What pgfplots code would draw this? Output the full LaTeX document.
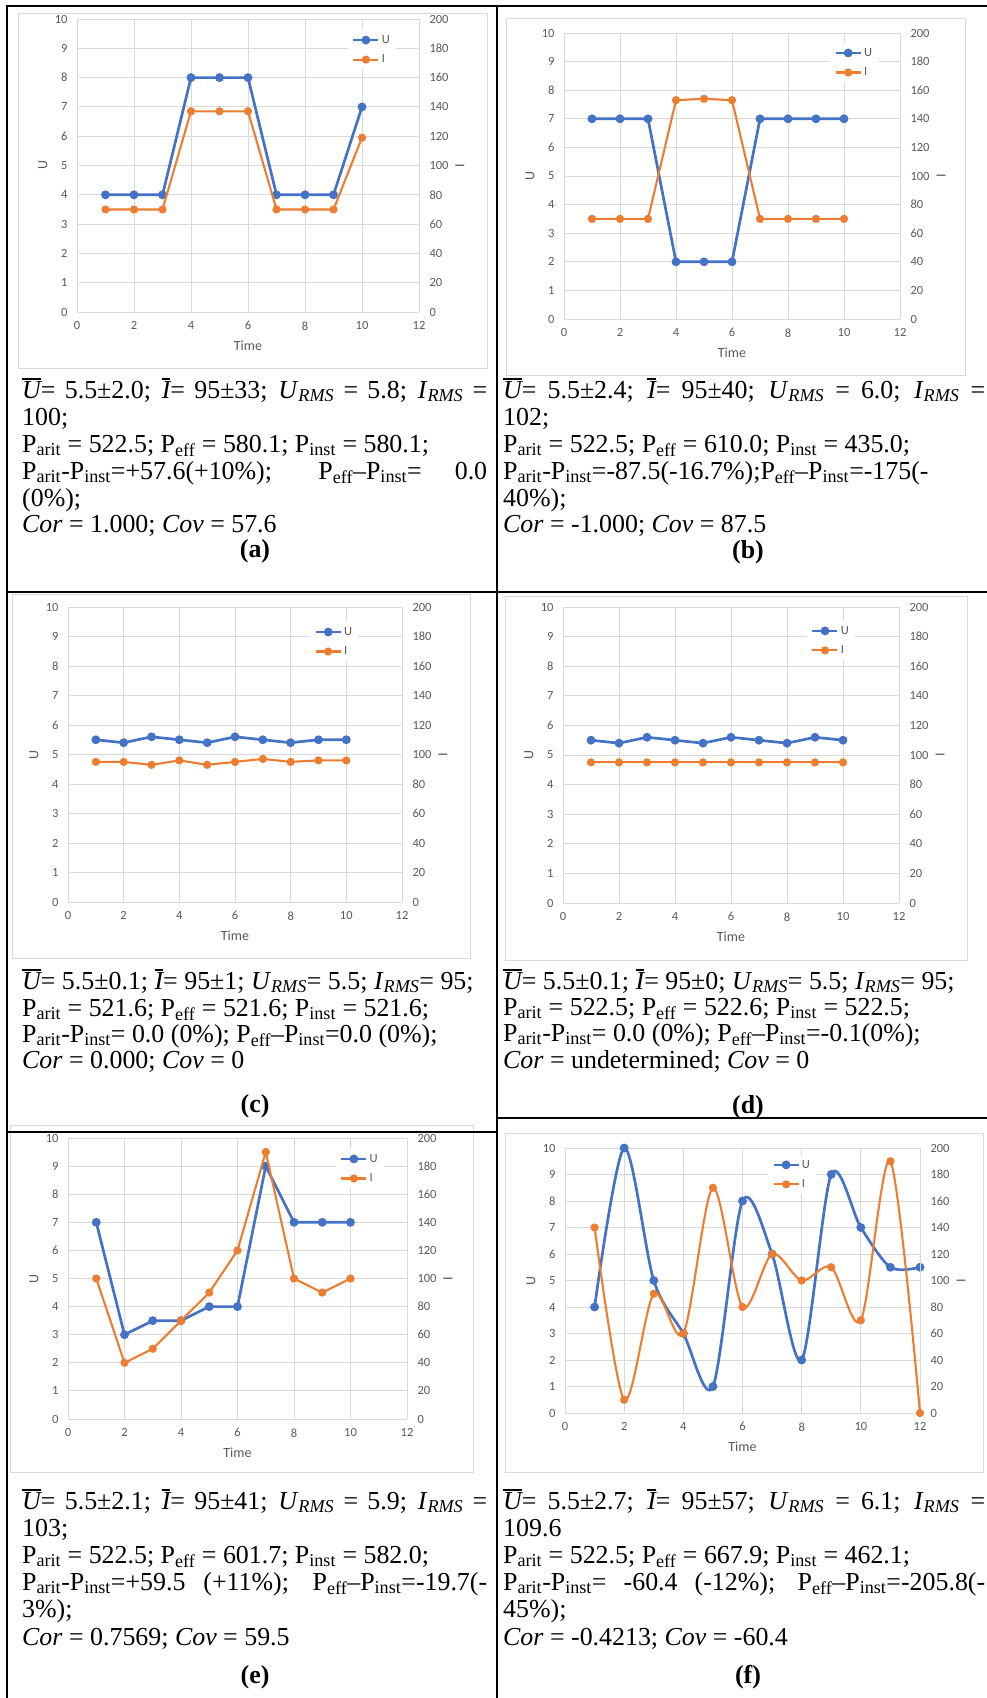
\documentclass[border=0pt]{standalone}
\usepackage{pgfplots}
\pgfplotsset{compat=1.18}
\usepackage{pgfplotstable}
\usetikzlibrary{calc}
\usepackage{fontspec}
\setmainfont{Liberation Serif}
\newfontfamily\chartfont{Carlito}

\definecolor{ublue}{HTML}{4472C4}
\definecolor{iorange}{HTML}{ED7D31}
\definecolor{gridgray}{HTML}{D9D9D9}
\definecolor{labgray}{HTML}{595959}

% one table per panel: time, U (left axis), I (right axis)
\pgfplotstableread{
t U I
1 4 70
2 4 70
3 4 70
4 8 137
5 8 137
6 8 137
7 4 70
8 4 70
9 4 70
10 7 119
}\tabA
\pgfplotstableread{
t U I
1 7 70
2 7 70
3 7 70
4 2 153
5 2 154
6 2 153
7 7 70
8 7 70
9 7 70
10 7 70
}\tabB
\pgfplotstableread{
t U I
1 5.5 95
2 5.4 95
3 5.6 93
4 5.5 96
5 5.4 93
6 5.6 95
7 5.5 97
8 5.4 95
9 5.5 96
10 5.5 96
}\tabC
\pgfplotstableread{
t U I
1 5.5 95
2 5.4 95
3 5.6 95
4 5.5 95
5 5.4 95
6 5.6 95
7 5.5 95
8 5.4 95
9 5.6 95
10 5.5 95
}\tabD
\pgfplotstableread{
t U I
1 7 100
2 3 40
3 3.5 50
4 3.5 70
5 4 90
6 4 120
7 9 190
8 7 100
9 7 90
10 7 100
}\tabE
\pgfplotstableread{
t U I
1 4 140
2 10 10
3 5 90
4 3 60
5 1 170
6 8 80
7 6 120
8 2 100
9 9 110
10 7 70
11 5.5 190
12 5.5 0
}\tabF

\pgfplotsset{
  ustyle/.style={color=ublue, line width=2.7pt, mark=*, mark size=3pt, mark options={solid}},
  istyle/.style={color=iorange, line width=2.1pt, mark=*, mark size=3pt, mark options={solid}},
  ui common/.style={
    scale only axis, clip=false,
    xmin=0, xmax=12,
    major tick length=0pt,
    tick label style={font=\chartfont\fontsize{12.5}{14}\selectfont, text=labgray},
    label style={font=\chartfont\fontsize{14}{16}\selectfont, text=labgray},
    /pgf/number format/assume math mode=true,
    axis line style={gridgray, line width=0.9pt},
  },
  ui left/.style={ui common,
    ymin=0, ymax=10, ytick={0,1,...,10}, xtick={0,2,...,12},
    grid=major, grid style={gridgray, line width=0.9pt},
    axis x line*=bottom, axis y line*=left,
    xticklabel style={yshift=-6pt},
    yticklabel style={xshift=-6pt},
    xlabel={Time}, ylabel={U},
    xlabel style={at={($(axis description cs:0.5,0)+(0,-34pt)$)}, anchor=center},
    ylabel style={at={($(axis description cs:0,0.5)+(-34pt,0)$)}, anchor=center},
  },
  ui right/.style={ui common,
    ymin=0, ymax=200, ytick={0,20,...,200},
    axis x line=none, axis y line*=right,
    yticklabel style={xshift=7pt},
    ylabel={I},
    ylabel style={at={($(axis description cs:1,0.5)+(41pt,0)$)}, anchor=center},
    legend style={anchor=north west, draw=none, fill=white,
      font=\chartfont\fontsize{12.5}{14}\selectfont, text=labgray,
      inner xsep=4pt, inner ysep=3pt, row sep=6pt},
    legend cell align=left,
    legend image code/.code={
      \draw[mark repeat=2,mark phase=2] plot coordinates {(0pt,0pt) (12.5pt,0pt) (25pt,0pt)};
    },
  },
}

% #1 left, #2 bottom, #3 width, #4 height of the plot area (pt from top-left)
% #5 table, #6 #7 legend corner (axis fraction), #8 extra plot options
\newcommand\uichart[8]{%
  \begin{axis}[ui left, at={(#1pt,-#2pt)}, anchor=south west, width=#3pt, height=#4pt]
    \addplot[ustyle,#8] table[x=t,y=U] {#5};
  \end{axis}
  \begin{axis}[ui right, at={(#1pt,-#2pt)}, anchor=south west, width=#3pt, height=#4pt,
      legend style={at={(#6,#7)}}]
    \addlegendimage{ustyle}
    \addlegendentry{U}
    \addplot[istyle,#8] table[x=t,y=I] {#5};
    \addlegendentry{I}
  \end{axis}
}

\newcommand\txt{\fontsize{25.9}{30}\selectfont}
\newcommand\ovl[1]{{\setbox0=\hbox{\itshape #1}\rlap{\rule[0.70em]{\wd0}{0.09em}}\box0}}
\newcommand\urms{\textit{U}\textsubscript{\textit{RMS}}}
\newcommand\irms{\textit{I}\textsubscript{\textit{RMS}}}
\newcommand\pa{P\textsubscript{arit}}
\newcommand\pe{P\textsubscript{eff}}
\newcommand\pin{P\textsubscript{inst}}
\newcommand\tl[3]{\node[anchor=base west, inner sep=0pt, font=\txt] at (#1pt,-#2pt) {#3};}
\newcommand\tc[3]{\node[anchor=base, inner sep=0pt, font=\txt\bfseries] at (#1pt,-#2pt) {#3};}

\begin{document}
\begin{tikzpicture}
\useasboundingbox (0pt,0pt) rectangle (987pt,-1698pt);

% chart frames
\draw[gridgray, line width=1pt] (18pt,-13pt) rectangle (487pt,-368pt);
\draw[gridgray, line width=1pt] (506pt,-18pt) rectangle (965pt,-375pt);
\draw[gridgray, line width=1pt] (12pt,-594pt) rectangle (470pt,-958pt);
\draw[gridgray, line width=1pt] (505pt,-596pt) rectangle (967pt,-960pt);
\draw[gridgray, line width=1pt] (10pt,-1125pt) rectangle (473pt,-1472pt);
\draw[gridgray, line width=1pt] (505pt,-1133pt) rectangle (983pt,-1472pt);

\uichart{77}{312}{342}{293}{\tabA}{0.792}{0.962}{}
\uichart{564}{319}{336}{286}{\tabB}{0.792}{0.965}{}
\uichart{68}{902}{334}{295}{\tabC}{0.725}{0.949}{}
\uichart{563}{903}{336}{296}{\tabD}{0.726}{0.953}{}
\uichart{68}{1419}{339}{281}{\tabE}{0.79}{0.961}{}
\uichart{565}{1413}{355}{265}{\tabF}{0.572}{0.974}{smooth}

% (a)
\tl{22}{398}{\makebox[465pt][s]{\ovl{U}= 5.5±2.0; \ovl{I}= 95±33; \urms{} = 5.8; \irms{} =}}
\tl{22}{425}{100;}
\tl{22}{452}{\pa{} = 522.5; \pe{} = 580.1; \pin{} = 580.1;}
\tl{22}{479}{\makebox[465pt][s]{\pa-\pin=+57.6(+10\%); \pe–\pin= 0.0}}
\tl{22}{506}{(0\%);}
\tl{22}{532}{\textit{Cor} = 1.000; \textit{Cov} = 57.6}
\tc{255}{557}{(a)}
% (b)
\tl{503}{398}{\makebox[482pt][s]{\ovl{U}= 5.5±2.4; \ovl{I}= 95±40; \urms{} = 6.0; \irms{} =}}
\tl{503}{425}{102;}
\tl{503}{452}{\pa{} = 522.5; \pe{} = 610.0; \pin{} = 435.0;}
\tl{503}{479}{\pa-\pin=-87.5(-16.7\%);\pe–\pin=-175(-}
\tl{503}{506}{40\%);}
\tl{503}{532}{\textit{Cor} = -1.000; \textit{Cov} = 87.5}
\tc{748}{558}{(b)}
% (c)
\tl{22}{989}{\ovl{U}= 5.5±0.1; \ovl{I}= 95±1; \urms= 5.5; \irms= 95;}
\tl{22}{1016}{\pa{} = 521.6; \pe{} = 521.6; \pin{} = 521.6;}
\tl{22}{1042}{\pa-\pin= 0.0 (0\%); \pe–\pin=0.0 (0\%);}
\tl{22}{1068}{\textit{Cor} = 0.000; \textit{Cov} = 0}
\tc{255}{1112}{(c)}
% (d)
\tl{503}{989}{\ovl{U}= 5.5±0.1; \ovl{I}= 95±0; \urms= 5.5; \irms= 95;}
\tl{503}{1015}{\pa{} = 522.5; \pe{} = 522.6; \pin{} = 522.5;}
\tl{503}{1041}{\pa-\pin= 0.0 (0\%); \pe–\pin=-0.1(0\%);}
\tl{503}{1068}{\textit{Cor} = undetermined; \textit{Cov} = 0}
\tc{748}{1113}{(d)}
% (e)
\tl{22}{1509}{\makebox[465pt][s]{\ovl{U}= 5.5±2.1; \ovl{I}= 95±41; \urms{} = 5.9; \irms{} =}}
\tl{22}{1536}{103;}
\tl{22}{1563}{\pa{} = 522.5; \pe{} = 601.7; \pin{} = 582.0;}
\tl{22}{1590}{\makebox[465pt][s]{\pa-\pin=+59.5 (+11\%); \pe–\pin=-19.7(-}}
\tl{22}{1617}{3\%);}
\tl{22}{1645}{\textit{Cor} = 0.7569; \textit{Cov} = 59.5}
\tc{255}{1683}{(e)}
% (f)
\tl{503}{1509}{\makebox[482pt][s]{\ovl{U}= 5.5±2.7; \ovl{I}= 95±57; \urms{} = 6.1; \irms{} =}}
\tl{503}{1536}{109.6}
\tl{503}{1563}{\pa{} = 522.5; \pe{} = 667.9; \pin{} = 462.1;}
\tl{503}{1590}{\makebox[482pt][s]{\pa-\pin= -60.4 (-12\%); \pe–\pin=-205.8(-}}
\tl{503}{1617}{45\%);}
\tl{503}{1645}{\textit{Cor} = -0.4213; \textit{Cov} = -60.4}
\tc{748}{1683}{(f)}

% table rules
\begin{scope}[line width=2.7pt, black]
\draw (5.6pt,-6pt) -- (987pt,-6pt);
\draw (7pt,-6pt) -- (7pt,-1698pt);
\draw (497pt,-6pt) -- (497pt,-1698pt);
\draw (7pt,-592pt) -- (987pt,-592pt);
\draw (7pt,-1132pt) -- (497pt,-1132pt);
\draw (497pt,-1118pt) -- (987pt,-1118pt);
\end{scope}
\end{tikzpicture}
\end{document}
